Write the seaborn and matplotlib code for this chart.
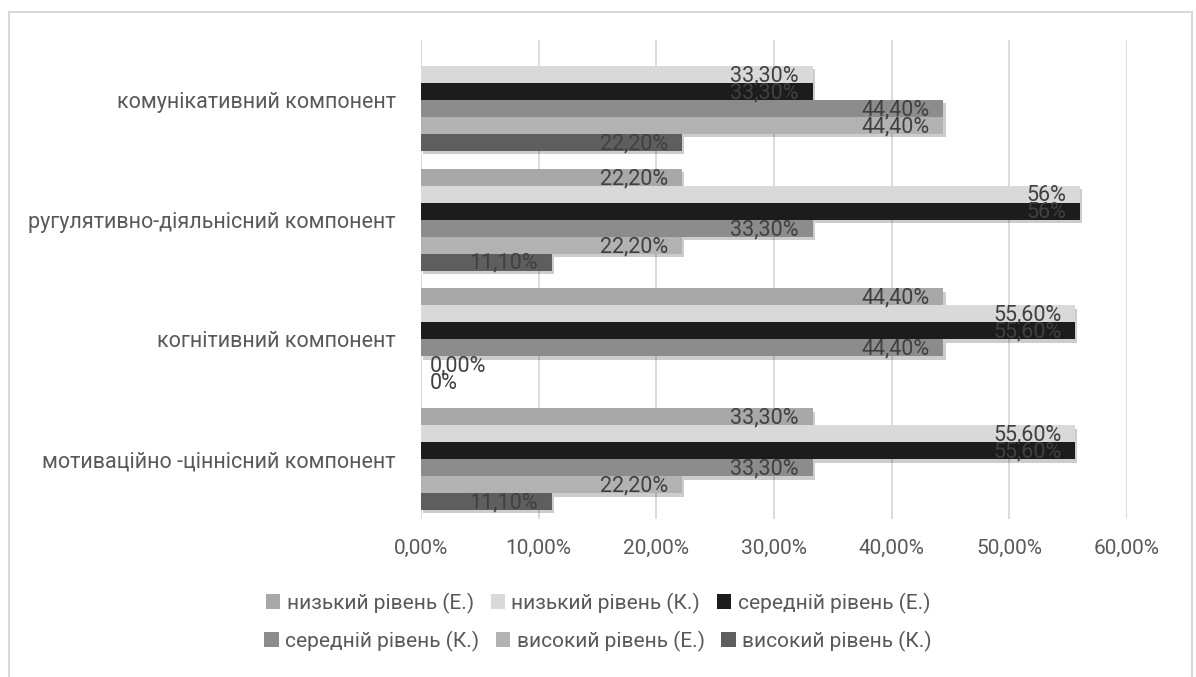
import numpy as np
import pandas as pd
import matplotlib
matplotlib.use("Agg")
from matplotlib import pyplot as plt
from matplotlib import patheffects as pe
from matplotlib.patches import Rectangle
from matplotlib.ticker import FuncFormatter
import seaborn as sns

# categories (top to bottom, as in the chart)
categories = ["комунікативний компонент",
              "ругулятивно-діяльнісний компонент",
              "когнітивний компонент",
              "мотиваційно -ціннісний компонент"]

# series in legend order
series = ["низький рівень (Е.)", "низький рівень (К.)", "середній рівень (Е.)",
          "середній рівень (К.)", "високий рівень (Е.)", "високий рівень (К.)"]

# values per series, one per category (None = no bar)
low_e = [None, 0.222, 0.444, 0.333]
low_k = [0.333, 0.56, 0.556, 0.556]
mid_e = [0.333, 0.56, 0.556, 0.556]
mid_k = [0.444, 0.333, 0.444, 0.333]
high_e = [0.444, 0.222, 0.0, 0.222]
high_k = [0.222, 0.111, 0.0, 0.111]

# data labels as printed in the chart
low_e_lab = ["", "22,20%", "44,40%", "33,30%"]
low_k_lab = ["33,30%", "56%", "55,60%", "55,60%"]
mid_e_lab = ["33,30%", "56%", "55,60%", "55,60%"]
mid_k_lab = ["44,40%", "33,30%", "44,40%", "33,30%"]
high_e_lab = ["44,40%", "22,20%", "0,00%", "22,20%"]
high_k_lab = ["22,20%", "11,10%", "0%", "11,10%"]

colors = ["#a8a8a8", "#d9d9d9", "#1c1c1c", "#8c8c8c", "#b2b2b2", "#5e5e5e"]

values = [low_e, low_k, mid_e, mid_k, high_e, high_k]
labels = [low_e_lab, low_k_lab, mid_e_lab, mid_k_lab, high_e_lab, high_k_lab]

rows = []
for s, vals in zip(series, values):
    for c, v in zip(categories, vals):
        rows.append({"category": c, "series": s, "value": np.nan if v is None else v})
df = pd.DataFrame(rows).dropna()

sns.set_style("white")
plt.rcParams['font.family'] = ['Roboto', 'DejaVu Sans']
txt = "#595959"

fig = plt.figure(figsize=(11.96, 6.77), dpi=100)
ax = fig.add_axes([421 / 1196, 1 - 519 / 677, (1127 - 421) / 1196, (519 - 40) / 677])

sns.barplot(data=df, y="category", x="value", hue="series", order=categories,
            hue_order=series, palette=colors, orient="h", width=0.85, gap=0,
            errorbar=None, saturation=1, linewidth=0, ax=ax)

ax.set_xlim(0, 0.6)
ax.set_ylim(3.5, -0.5)
ax.set_xticks(np.arange(0, 0.61, 0.1))
ax.xaxis.set_major_formatter(FuncFormatter(lambda v, p: f"{v * 100:.2f}%".replace(".", ",")))
ax.grid(axis="x", color="#d9d9d9", lw=1.3)
ax.set_axisbelow(True)
for sp in ax.spines.values():
    sp.set_visible(False)
ax.tick_params(length=0, labelcolor=txt)
ax.tick_params(axis="y", pad=18, labelsize=15.5)
ax.tick_params(axis="x", pad=14, labelsize=15)
ax.set_xlabel("")
ax.set_ylabel("")

handles, hlabels = ax.get_legend_handles_labels()
ax.get_legend().remove()

# shadows + data labels
for i, cont in enumerate(ax.containers):
    for bar in cont:
        bar.set_path_effects([pe.SimplePatchShadow(offset=(1.5, -2.5), shadow_rgbFace="#000000", alpha=0.2),
                              pe.Normal()])
        yc = bar.get_y() + bar.get_height() / 2
        idx = int(round(yc))
        val = bar.get_width()
        lab = labels[i][idx]
        if not lab:
            continue
        if val == 0:
            ax.annotate(lab, (0, yc), xytext=(6, -1), textcoords="offset points",
                        ha="left", va="center", fontsize=15.5, color="#404040")
        else:
            ax.annotate(lab, (val, yc), xytext=(-10, -1), textcoords="offset points",
                        ha="right", va="center", fontsize=15.5, color="#404040")

# legend in two centred rows
kw = dict(ncol=3, frameon=False, fontsize=15, labelcolor=txt, handlelength=0.7,
          handleheight=0.7, handletextpad=0.3, columnspacing=0.8, loc="center")
fig.legend(handles[:3], hlabels[:3], bbox_to_anchor=(0.5, 1 - 603 / 677), **kw)
fig.legend(handles[3:], hlabels[3:], bbox_to_anchor=(0.5, 1 - 641 / 677), **kw)

# chart border
fig.add_artist(Rectangle((9 / 1196, -0.1), (1192 - 9) / 1196, 1.1 - 12 / 677,
                         transform=fig.transFigure, fill=False, edgecolor="#d9d9d9", lw=1.5))

fig.savefig("out.png", dpi=100)
